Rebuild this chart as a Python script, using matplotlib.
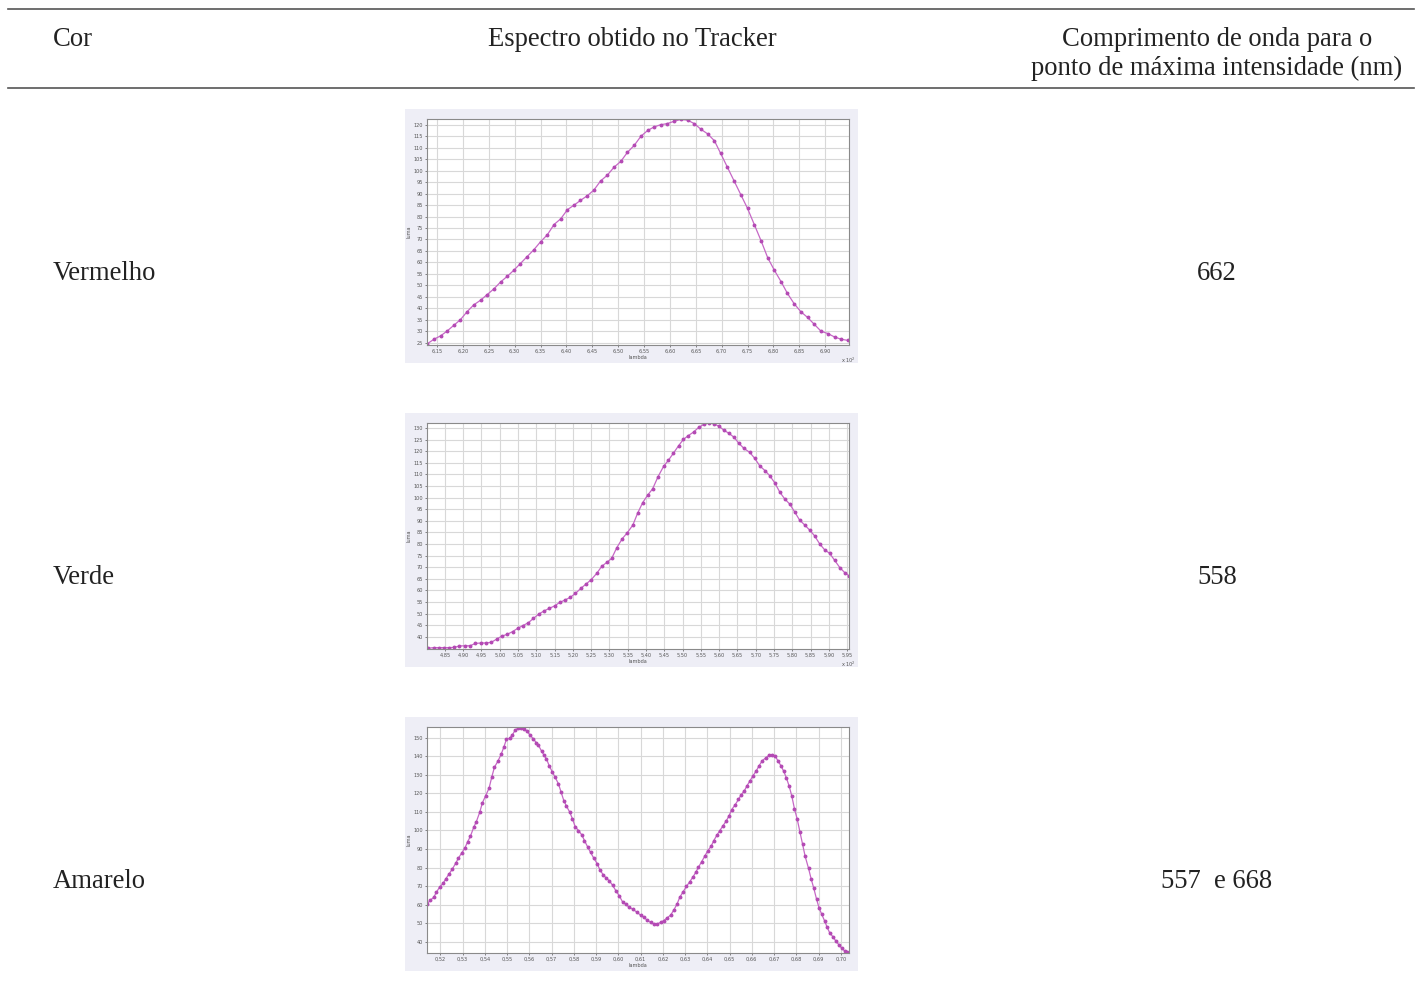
import matplotlib.pyplot as plt
from matplotlib.patches import Rectangle
from matplotlib.lines import Line2D
from matplotlib.ticker import FuncFormatter

# table text
headers = ["Cor", "Espectro obtido no Tracker",
           "Comprimento de onda para o\nponto de máxima intensidade (nm)"]
cores = ["Vermelho", "Verde", "Amarelo"]
picos = ["662", "558", "557  e 668"]

# Vermelho spectrum (lambda x 10^2 nm, luma)
red_x = [6.131, 6.144, 6.157, 6.169, 6.182, 6.195, 6.208, 6.221, 6.234, 6.247,
         6.260, 6.273, 6.286, 6.298, 6.311, 6.324, 6.337, 6.350, 6.363, 6.376,
         6.389, 6.402, 6.415, 6.427, 6.440, 6.453, 6.466, 6.479, 6.492, 6.505,
         6.518, 6.531, 6.544, 6.557, 6.569, 6.582, 6.595, 6.608, 6.621, 6.634,
         6.647, 6.660, 6.673, 6.686, 6.698, 6.711, 6.724, 6.737, 6.750, 6.763,
         6.776, 6.789, 6.802, 6.815, 6.827, 6.840, 6.853, 6.866, 6.879, 6.892,
         6.905, 6.918, 6.931, 6.944]
red_y = [24.5, 26.5, 28, 30, 32.5, 35, 38.5, 41.5, 43.5, 46,
         48.5, 51.5, 54, 56.5, 59.5, 62.5, 65.5, 69, 72, 76.5,
         79, 83, 85, 87, 89, 91.5, 95.5, 98, 101.5, 104,
         108, 111, 115, 117.5, 119, 120, 120.5, 121.5, 122.3, 122,
         120.5, 118, 116, 113, 107.5, 101.5, 95.5, 89.5, 83.5, 76.5,
         69.5, 62, 56.5, 51.5, 46.5, 42, 38.5, 36, 33, 30,
         29, 27.5, 26.5, 26]

# Verde spectrum
green_x = [4.803, 4.819, 4.833, 4.848, 4.862, 4.876, 4.889, 4.905, 4.919, 4.933,
           4.948, 4.963, 4.977, 4.992, 5.006, 5.020, 5.035, 5.049, 5.063, 5.078,
           5.092, 5.107, 5.121, 5.135, 5.150, 5.164, 5.178, 5.193, 5.207, 5.222,
           5.235, 5.250, 5.265, 5.279, 5.293, 5.306, 5.320, 5.335, 5.349, 5.364,
           5.377, 5.391, 5.405, 5.418, 5.433, 5.448, 5.461, 5.475, 5.489, 5.502,
           5.516, 5.530, 5.544, 5.559, 5.572, 5.586, 5.600, 5.613, 5.627, 5.641,
           5.654, 5.668, 5.683, 5.697, 5.711, 5.725, 5.738, 5.752, 5.766, 5.779,
           5.793, 5.807, 5.820, 5.834, 5.848, 5.861, 5.875, 5.889, 5.902, 5.916,
           5.930, 5.943, 5.955]
green_y = [35, 35.3, 35.3, 35.3, 35.3, 35.4, 36, 36.1, 36.1, 37.1,
           37.3, 37.3, 37.6, 39, 40.3, 41, 42.2, 43.6, 44.8, 46,
           47.9, 49.8, 51.1, 52.2, 53.3, 54.8, 55.8, 57, 58.7, 60.9,
           62.6, 64.6, 67.3, 70.4, 72.1, 73.8, 78.4, 82.3, 84.9, 88.2,
           93.3, 97.9, 101.2, 103.8, 109.1, 113.5, 116.1, 119.2, 122.4, 125.1,
           126.8, 128.3, 130.3, 131.7, 132.2, 131.9, 130.7, 129.1, 127.7, 126,
           123.4, 121.2, 119.6, 117, 113.7, 111.7, 109.5, 106.4, 102.3, 99.5,
           97.2, 93.7, 90.3, 88.2, 85.9, 83.5, 80, 77.4, 76, 72.9,
           69.8, 67.7, 66.3]

# Amarelo spectrum
yellow_x = [0.5140, 0.5155, 0.5170, 0.5182, 0.5197, 0.5212, 0.5224, 0.5239, 0.5254, 0.5269,
            0.5281, 0.5296, 0.5311, 0.5323, 0.5335, 0.5350, 0.5362, 0.5377, 0.5389, 0.5404,
            0.5419, 0.5431, 0.5443, 0.5458, 0.5473, 0.5485, 0.5497, 0.5512, 0.5524, 0.5536,
            0.5551, 0.5563, 0.5575, 0.5590, 0.5602, 0.5617, 0.5632, 0.5641, 0.5656, 0.5665,
            0.5677, 0.5689, 0.5704, 0.5716, 0.5731, 0.5743, 0.5755, 0.5767, 0.5782, 0.5794,
            0.5806, 0.5821, 0.5836, 0.5848, 0.5863, 0.5875, 0.5890, 0.5905, 0.5917, 0.5932,
            0.5944, 0.5959, 0.5974, 0.5989, 0.6004, 0.6019, 0.6034, 0.6049, 0.6064, 0.6085,
            0.6100, 0.6115, 0.6130, 0.6145, 0.6160, 0.6175, 0.6190, 0.6205, 0.6220, 0.6235,
            0.6250, 0.6264, 0.6276, 0.6291, 0.6306, 0.6321, 0.6336, 0.6348, 0.6360, 0.6375,
            0.6390, 0.6402, 0.6417, 0.6429, 0.6444, 0.6456, 0.6471, 0.6486, 0.6498, 0.6510,
            0.6525, 0.6540, 0.6552, 0.6567, 0.6579, 0.6591, 0.6606, 0.6621, 0.6633, 0.6648,
            0.6663, 0.6678, 0.6693, 0.6705, 0.6717, 0.6732, 0.6744, 0.6756, 0.6768, 0.6780,
            0.6792, 0.6804, 0.6816, 0.6828, 0.6840, 0.6855, 0.6867, 0.6879, 0.6891, 0.6903,
            0.6915, 0.6927, 0.6939, 0.6951, 0.6966, 0.6978, 0.6993, 0.7005, 0.7017, 0.7029]
yellow_y = [60.3, 62.4, 63.9, 66.6, 69.5, 71.4, 73.8, 76.5, 79.2, 82.3,
            85, 87.8, 90.7, 94, 96.8, 101.7, 104.8, 109.8, 114.9, 118.8,
            122.8, 128.7, 134.1, 137.2, 141, 144.8, 149.1, 149.8, 151.6, 154,
            155.2, 155.4, 154.9, 153.4, 151.6, 149.5, 147.3, 145.9, 142.6, 140.8,
            138.6, 135, 131.4, 128.7, 125.1, 120.6, 116.1, 113.1, 109.8, 106.2,
            102.1, 99.9, 97.6, 94.5, 90.9, 88.2, 85, 82.1, 78.8, 76.1,
            74.5, 72.9, 70.5, 67.5, 64.8, 61.5, 60.1, 58.6, 57.6, 55.8,
            54.3, 53.1, 51.6, 50.4, 49.6, 49.6, 50.4, 51.4, 52.9, 54.3,
            57.2, 60.3, 63.9, 66.9, 69.8, 72.3, 75, 77.4, 80.1, 83.2,
            86.4, 89.1, 91.4, 94.5, 97.6, 99.9, 102.6, 105.3, 108, 111.3,
            113.8, 116.7, 119.2, 121.5, 124.2, 126.6, 129.6, 132.3, 135, 137.7,
            139.2, 140.5, 140.8, 140.1, 137.7, 134.7, 131.8, 128.2, 123.9, 118.5,
            111.6, 106.2, 99.4, 92.7, 86, 79.6, 73.8, 68.7, 63, 58,
            54.7, 51.3, 47.7, 44.6, 42.5, 40.3, 38.1, 36.4, 35.1, 34.2]

W, H = 1424, 990
fig = plt.figure(figsize=(W / 100, H / 100), dpi=100)
serif = ['Liberation Serif', 'DejaVu Serif']


def px(x, y):
    return x / W, 1 - y / H


# rules of the table
for yy in (9, 88):
    fig.add_artist(Line2D([8 / W, 1414 / W], [1 - yy / H] * 2, color='#555555', lw=1.2))

fs = 19.2
fig.text(*px(53, 39), headers[0], family=serif, fontsize=fs, color='#222222', va='center', ha='left')
fig.text(*px(632, 39), headers[1], family=serif, fontsize=fs, color='#222222', va='center', ha='center')
fig.text(*px(1217, 54), headers[2], family=serif, fontsize=fs, color='#222222', va='center',
         ha='center', linespacing=1.2)

rows_y = [273, 577, 881]
for cor, pico, ry in zip(cores, picos, rows_y):
    fig.text(*px(53, ry), cor, family=serif, fontsize=fs, color='#222222', va='center', ha='left')
    fig.text(*px(1217, ry), pico, family=serif, fontsize=fs, color='#222222', va='center', ha='center')

comma = FuncFormatter(lambda v, p: ("%.2f" % v).replace('.', ','))

charts = [
    (red_x, red_y, 109, (6.1306, 6.946), (24, 122.5), [6.15 + 0.05 * i for i in range(16)],
     list(range(25, 121, 5)), True),
    (green_x, green_y, 413, (4.801, 5.955), (34.7, 132.2), [4.85 + 0.05 * i for i in range(23)],
     list(range(40, 131, 5)), True),
    (yellow_x, yellow_y, 717, (0.514, 0.7037), (33.9, 155.8), [0.52 + 0.01 * i for i in range(19)],
     list(range(40, 151, 10)), False),
]

for xs, ys, top, xl, yl, xt, yt, mult in charts:
    # grey panel behind each Tracker screenshot
    fig.add_artist(Rectangle(px(405, top + 254), 453 / W, 254 / H, transform=fig.transFigure,
                             facecolor='#eeeef6', edgecolor='none', zorder=0))
    ax = fig.add_axes([427 / W, 1 - (top + 236) / H, 422 / W, 226 / H])
    ax.set_facecolor('white')
    ax.plot(xs, ys, color='#c668c6', lw=0.9, marker='o', ms=1.8,
            markerfacecolor='#b44ab4', markeredgecolor='#b44ab4')
    ax.set_xlim(*xl)
    ax.set_ylim(*yl)
    ax.set_xticks(xt)
    ax.set_yticks(yt)
    ax.xaxis.set_major_formatter(comma)
    ax.grid(True, color='#d8d8d8', lw=0.8)
    ax.set_axisbelow(True)
    ax.tick_params(labelsize=3.6, colors='#555555', length=1.5, width=0.5, pad=1.5)
    for s in ax.spines.values():
        s.set_color('#8a8a8a')
        s.set_linewidth(0.8)
    ax.set_xlabel('lambda', fontsize=3.6, color='#555555', labelpad=0.5)
    ax.set_ylabel('luma', fontsize=3.6, color='#555555', labelpad=1.5)
    if mult:
        fig.text(*px(856, top + 251), 'x 10$^2$', fontsize=3.6, color='#555555', va='center', ha='right')

fig.savefig('out.png', dpi=100)
